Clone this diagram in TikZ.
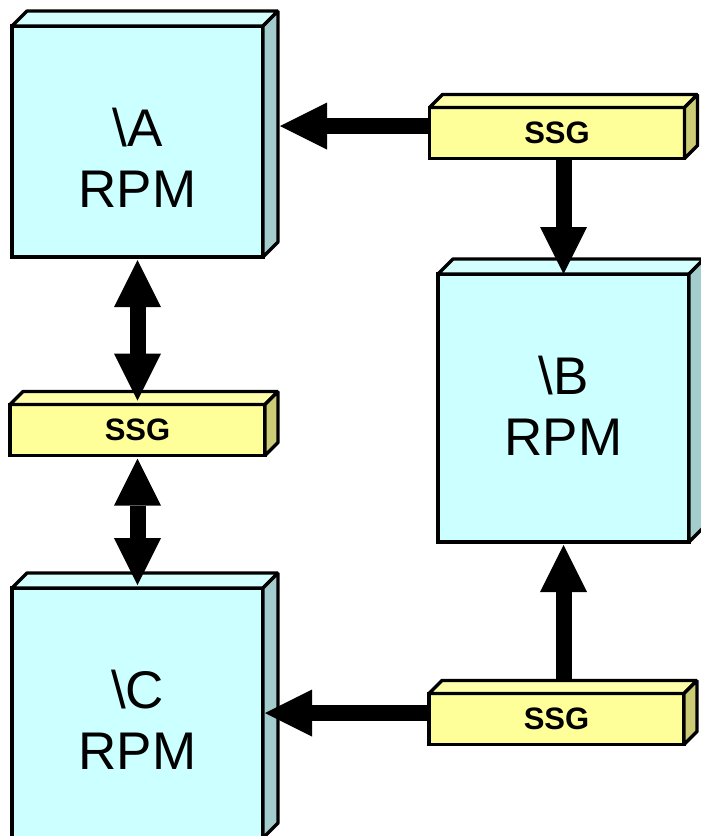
\documentclass[tikz,border=0pt]{standalone}
\usepackage{fontspec}
\setmainfont{Liberation Sans}
\usetikzlibrary{arrows.meta,positioning}
\definecolor{rpmfront}{HTML}{CCFFFF}
\definecolor{rpmtop}{HTML}{D4FFFF}
\definecolor{rpmside}{HTML}{A3CCCC}
\definecolor{ssgfront}{HTML}{FFFF99}
\definecolor{ssgtop}{HTML}{FFFFAA}
\definecolor{ssgside}{HTML}{CCCC77}
\tikzset{
  rpmbox/.style={draw, line width=3.4pt, fill=rpmfront, outer sep=0pt,
    inner sep=0pt, minimum width=251pt},
  ssgbox/.style={draw, line width=3.4pt, fill=ssgfront, outer sep=0pt,
    inner sep=0pt, minimum width=255pt, minimum height=51pt,
    font=\fontsize{31}{33}\selectfont\bfseries},
  rpmtext/.style={align=center, font=\fontsize{53}{61}\selectfont},
  flowarrow/.style={-{Triangle[length=47pt,width=47pt,line width=0pt]},
    line width=16pt},
  duplexarrow/.style={{Triangle[length=47pt,width=47pt,line width=0pt]}-{Triangle[length=47pt,width=47pt,line width=0pt]},
    line width=16pt},
}
\newcommand{\slabfaces}[4]{%
  \filldraw[fill=#3, line width=3.4pt, line join=bevel] (#1.north west)
    -- ++(#2,#2) -- ([shift={(#2,#2)}]#1.north east) -- (#1.north east) -- cycle;
  \filldraw[fill=#4, line width=3.4pt, line join=bevel] (#1.north east)
    -- ++(#2,#2) -- ([shift={(#2,#2)}]#1.south east) -- (#1.south east) -- cycle;
}

\begin{document}
\begin{tikzpicture}[x=1pt, y=-1pt]
    \useasboundingbox (0,0) rectangle (701,836);
    % the RPM boxes
    \node[rpmbox, minimum height=231pt] (rpmA) at (137.5,141.5) {};
    \slabfaces{rpmA}{15pt}{rpmtop}{rpmside}
    \node[rpmbox, minimum height=268pt] (rpmB) at (563.5,408) {};
    \slabfaces{rpmB}{15pt}{rpmtop}{rpmside}
    \node[rpmbox, minimum height=250pt] (rpmC) at (137.5,713) {};
    \slabfaces{rpmC}{15pt}{rpmtop}{rpmside}
    \node[rpmtext] (labA) at (137.5,158) {\textbackslash A\\RPM};
    \node[rpmtext] (labB) at (563.5,406) {\textbackslash B\\RPM};
    \node[rpmtext] (labC) at (137.5,720) {\textbackslash C\\RPM};
    % the SSG bars
    \node[ssgbox] (ssgAB) at (557,133) {SSG};
    \slabfaces{ssgAB}{13pt}{ssgtop}{ssgside}
    \node[ssgbox] (ssgAC) at (137.5,430) {SSG};
    \slabfaces{ssgAC}{13pt}{ssgtop}{ssgside}
    \node[ssgbox] (ssgCB) at (556.5,719) {SSG};
    \slabfaces{ssgCB}{13pt}{ssgtop}{ssgside}
    % links
    \draw[flowarrow] ([yshift=7pt]ssgAB.west)
      -- ([xshift=17pt,yshift=7pt]rpmA.east |- ssgAB.west);
    \draw[flowarrow] (ssgAB.south -| rpmB.north) -- (rpmB.north);
    \draw[duplexarrow] ([yshift=-3pt]rpmA.south) -- ([yshift=4pt]ssgAC.north);
    \draw[duplexarrow] ([yshift=-3pt]ssgAC.south) -- ([yshift=3pt]rpmC.north);
    \draw[flowarrow] ([yshift=13pt]ssgCB.north -| rpmB.south)
      -- ([yshift=-3pt]rpmB.south);
    \draw[flowarrow] ([yshift=6pt]ssgCB.west)
      -- ([xshift=2pt,yshift=6pt]rpmC.east |- ssgCB.west);
\end{tikzpicture}
\end{document}
